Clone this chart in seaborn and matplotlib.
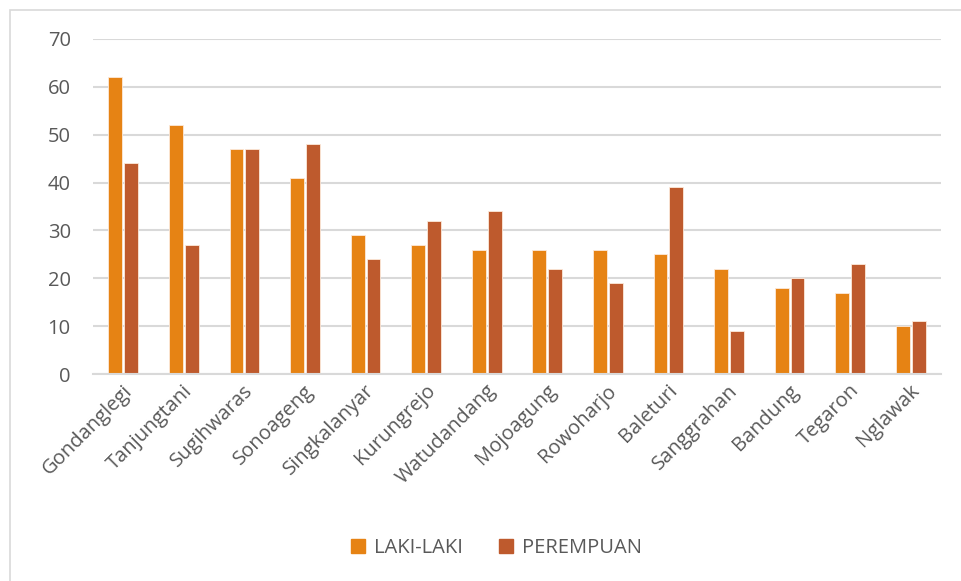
import matplotlib
matplotlib.use("Agg")
import matplotlib.pyplot as plt
import seaborn as sns
import pandas as pd
from matplotlib.patches import Rectangle
from matplotlib.lines import Line2D
import matplotlib.transforms as mtransforms

categories = ["Gondanglegi", "Tanjungtani", "Sugihwaras", "Sonoageng", "Singkalanyar",
              "Kurungrejo", "Watudandang", "Mojoagung", "Rowoharjo", "Baleturi",
              "Sanggrahan", "Bandung", "Tegaron", "Nglawak"]
laki = [62, 52, 47, 41, 29, 27, 26, 26, 26, 25, 22, 18, 17, 10]
perempuan = [44, 27, 47, 48, 24, 32, 34, 22, 19, 39, 9, 20, 23, 11]
series_names = ["LAKI-LAKI", "PEREMPUAN"]
colors = ["#E68314", "#BE5A2D"]
yticks = [0, 10, 20, 30, 40, 50, 60, 70]

df = pd.DataFrame({
    "Desa": categories * 2,
    "Jumlah": laki + perempuan,
    "Jenis": [series_names[0]] * len(categories) + [series_names[1]] * len(categories),
})

sns.set_theme(style="white")
plt.rcParams["font.family"] = ["Open Sans", "DejaVu Sans"]
text_color = "#595959"
fs = 14.5

fig = plt.figure(figsize=(9.61, 5.81), dpi=100)
ax = fig.add_axes([93/961, 1-374/581, (941-93)/961, (374-39)/581])

sns.barplot(data=df, x="Desa", y="Jumlah", hue="Jenis", palette=colors,
            saturation=1, width=0.52, gap=0.12, ax=ax, legend=False,
            edgecolor="#FCE9DA", linewidth=0.6)

ax.set_ylim(0, 70)
ax.set_yticks(yticks)
ax.set_xlim(-0.5, len(categories) - 0.5)
ax.yaxis.grid(True, color="#D9D9D9", linewidth=1.5)
ax.set_axisbelow(True)
for s in ["top", "right", "left"]:
    ax.spines[s].set_visible(False)
ax.spines["bottom"].set_color("#D9D9D9")
ax.spines["bottom"].set_linewidth(1.5)
ax.set_xlabel("")
ax.set_ylabel("")
ax.tick_params(axis="both", length=0, colors=text_color, labelsize=fs)
ax.tick_params(axis="y", pad=16)
ax.set_xticks(range(len(categories)))
ax.set_xticklabels(categories, rotation=45, ha="right", va="center",
                   rotation_mode="anchor", color=text_color, fontsize=fs)
offset = mtransforms.ScaledTranslation(6/100, -9/100, fig.dpi_scale_trans)
for lbl in ax.get_xticklabels():
    lbl.set_transform(lbl.get_transform() + offset)
for lbl in ax.get_yticklabels():
    lbl.set_color(text_color)

handles = [Line2D([0], [0], marker="s", linestyle="", markersize=10,
                  markerfacecolor=c, markeredgecolor=c) for c in colors]
leg = fig.legend(handles, series_names, loc="center", ncol=2,
                 bbox_to_anchor=(495/961, 1-548/581), frameon=False,
                 fontsize=fs, handletextpad=0.3, columnspacing=1.6,
                 handlelength=1.0)
for t in leg.get_texts():
    t.set_color(text_color)

fig.patches.append(Rectangle((10/961, -0.1), 1.2, 1 - 10/581 + 0.1,
                             transform=fig.transFigure, fill=False,
                             edgecolor="#D9D9D9", linewidth=1.2))

fig.savefig("out.png", dpi=100)
